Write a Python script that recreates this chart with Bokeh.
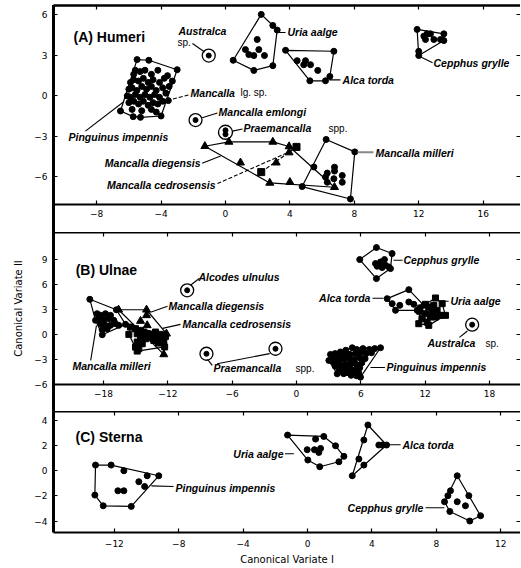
from bokeh.plotting import figure
from bokeh.models import Range1d, LinearAxis, FixedTicker, ColumnDataSource
from bokeh.layouts import column
from bokeh.embed import file_html
from bokeh.resources import INLINE
from bokeh.core.properties import value

# ================= DATA =================
# ---- Panel A: Humeri ----
A_pinguinus_x = [-6.52, -5.49, -4.76, -3.0, -4.0, -5.28, -5.73,
                 -5.7, -5.6, -5.3, -5.0, -4.6, -4.2, -3.6, -3.3,
                 -5.9, -5.7, -5.4, -5.1, -4.8, -4.5, -4.1, -3.8,
                 -6.0, -5.8, -5.5, -5.2, -4.9, -4.6, -4.3, -3.9, -3.5,
                 -6.1, -5.9, -5.6, -5.3, -5.0, -4.7, -4.4, -4.1, -3.7,
                 -6.0, -5.7, -5.4, -5.1, -4.8, -4.5, -4.2, -3.9,
                 -5.8, -5.2, -4.6, -4.3]
A_pinguinus_y = [-1.12, 2.69, 2.64, 1.94, -1.49, -1.59, -1.54,
                 1.6, 1.9, 1.8, 1.9, 1.6, 1.9, 1.5, 1.1,
                 1.0, 1.2, 1.1, 1.3, 1.0, 1.2, 1.0, 1.3,
                 0.5, 0.6, 0.4, 0.7, 0.5, 0.7, 0.4, 0.6, 0.7,
                 0.0, -0.1, 0.1, -0.1, 0.1, -0.1, 0.1, -0.1, 0.2,
                 -0.5, -0.4, -0.6, -0.4, -0.7, -0.5, -0.6, -0.4,
                 -1.0, -1.1, -1.0, -1.2]
A_lgsp_x = [-3.55]
A_lgsp_y = [-0.35]
A_australca_x = [-1.04]
A_australca_y = [2.99]
A_emlongi_x = [-1.86]
A_emlongi_y = [-1.79]
A_praemancalla_x = [0.0, 0.0]
A_praemancalla_y = [-2.55, -2.85]
A_uria_x = [2.22, 2.94, 3.21, 2.94, 1.76, 0.48, 1.97, 1.24, 2.07, 1.45, 1.76, 2.42]
A_uria_y = [6.04, 5.22, 4.88, 2.24, 1.89, 2.64, 4.18, 3.43, 3.43, 3.06, 2.99, 2.99]
A_alca_x = [3.73, 6.73, 6.48, 6.21, 5.24, 4.45, 4.97, 4.86, 5.28, 5.73]
A_alca_y = [3.38, 3.31, 1.44, 1.12, 1.12, 2.61, 2.61, 2.31, 2.31, 1.89]
A_cepphus_x = [11.9, 13.56, 13.56, 12.0, 12.0, 12.32, 12.52, 12.73, 12.42, 12.94, 13.35]
A_cepphus_y = [4.93, 4.6, 4.1, 2.99, 3.3, 4.43, 4.6, 4.6, 4.18, 4.18, 4.18]
A_diegensis_x = [-1.28, 0.21, 2.94, 3.95, 6.77, 4.0, 2.75, 0.93, 3.15, 3.95]
A_diegensis_y = [-3.73, -3.41, -3.41, -3.75, -6.77, -6.39, -6.45, -4.95, -4.95, -4.2]
A_cedrosensis_x = [4.41, 2.22]
A_cedrosensis_y = [-3.78, -5.65]
A_milleri_x = [6.25, 8.03, 7.76, 4.76, 5.49, 6.77, 6.77, 6.32, 7.25, 6.73, 7.25, 6.32, 6.21]
A_milleri_y = [-3.23, -4.15, -7.64, -6.72, -5.27, -5.28, -5.57, -5.72, -5.9, -6.14, -6.4, -6.4, -6.02]

# ---- Panel B: Ulnae ----
B_alcodes_x = [-10.2]
B_alcodes_y = [5.28]
B_milleri_x = [-19.28, -16.8, -15.95, -18.12,
               -18.6, -18.28, -17.82, -17.35, -18.44, -17.97, -17.51, -17.04,
               -16.58, -18.28, -17.82, -17.35, -18.13, -17.66, -16.88, -18.75]
B_milleri_y = [4.2, 2.95, 1.2, -0.04,
               2.48, 2.28, 2.48, 2.28, 1.88, 1.76, 1.88, 1.68,
               1.08, 1.28, 1.08, 1.08, 0.56, 0.68, 1.28, 1.68]
B_diegensis_x = [-16.6, -13.99, -13.99, -14.55, -13.93, -12.84, -12.38, -12.13]
B_diegensis_y = [2.95, 2.95, 2.28, 1.6, 1.08, -1.12, -2.4, 0.08]
B_cedrosensis_x = [-15.64, -15.49, -15.02, -14.55, -14.86, -14.24, -13.93, -13.62, -13.15,
                   -12.69, -12.22, -14.55, -14.08, -13.62, -13.15, -12.69, -12.38, -14.86,
                   -14.39, -15.02, -14.71, -13.31, -12.84, -14.86, -12.3]
B_cedrosensis_y = [0.0, 0.88, 0.68, 0.48, 0.08, 0.28, 0.08, 0.0, 0.28,
                   0.0, -0.24, -0.32, -0.52, -0.4, -0.4, -0.52, -0.72, -0.92,
                   -1.12, -1.52, -1.72, -0.72, -0.9, -2.0, -1.5]
B_praemancalla_x = [-8.4, -1.96]
B_praemancalla_y = [-2.32, -1.72]
B_australca_x = [16.39]
B_australca_y = [1.16]
B_pinguinus_x = [3.17, 5.2, 7.84, 5.97, 3.8, 3.02,
                 3.6, 4.1, 4.6, 5.6, 6.2, 6.8, 7.3,
                 3.5, 4.0, 4.5, 5.0, 5.5, 6.0, 6.5, 7.0,
                 3.4, 3.9, 4.4, 4.9, 5.4, 5.9, 6.4,
                 3.6, 4.1, 4.6, 5.1, 5.6, 6.1,
                 4.0, 4.5, 5.0, 5.5, 5.9,
                 4.4, 4.9, 5.4, 5.8,
                 5.1, 5.6]
B_pinguinus_y = [-2.4, -1.6, -1.6, -5.12, -4.72, -3.12,
                 -2.3, -2.1, -1.9, -1.8, -1.7, -1.8, -1.7,
                 -2.8, -2.6, -2.5, -2.4, -2.3, -2.2, -2.3, -2.2,
                 -3.3, -3.2, -3.0, -2.9, -3.0, -2.8, -2.9,
                 -3.8, -3.7, -3.6, -3.5, -3.6, -3.4,
                 -4.3, -4.2, -4.1, -4.2, -4.0,
                 -4.7, -4.6, -4.7, -4.6,
                 -4.9, -4.95]
B_alca_x = [8.46, 10.48, 11.88, 11.26, 9.24, 8.93, 9.64, 10.48, 10.95, 11.51]
B_alca_y = [4.28, 5.36, 3.48, 2.88, 2.88, 3.68, 3.48, 3.88, 3.6, 3.2]
B_uria_x = [12.97, 13.59, 13.9, 12.34, 11.41, 11.51,
            12.03, 12.34, 12.81, 12.66, 13.12, 12.03, 12.5, 12.97, 13.43, 11.72, 12.19]
B_uria_y = [4.36, 3.68, 2.28, 1.08, 1.28, 2.76,
            3.6, 3.28, 3.48, 2.68, 2.88, 2.48, 2.08, 2.08, 2.28, 1.88, 1.48]
B_cepphus_x = [5.9, 7.46, 8.92, 8.77, 7.46, 7.37, 7.84, 8.21, 8.3, 8.61, 7.53, 7.99]
B_cepphus_y = [8.96, 10.4, 9.68, 7.88, 6.68, 8.48, 8.68, 8.96, 8.28, 8.08, 8.16, 8.0]

# ---- Panel C: Sterna ----
C_pinguinus_x = [-13.17, -12.2, -9.24, -10.95, -12.69, -13.21, -11.41, -9.96, -10.48, -10.12, -11.78, -11.41]
C_pinguinus_y = [0.45, 0.45, -0.4, -2.83, -2.78, -1.93, 0.0, -0.4, -0.87, -1.25, -1.59, -1.59]
C_uria_x = [-1.24, 1.01, 1.74, 2.26, 1.95, 0.76, 0.02, -0.02, 0.43, 0.81, 0.7, 0.5]
C_uria_y = [2.83, 2.72, 1.98, 1.14, 0.71, 0.32, 0.85, 1.67, 1.67, 1.77, 1.45, 2.51]
C_alca_x = [3.75, 4.91, 2.78, 3.5, 4.43, 4.64, 3.19, 3.5]
C_alca_y = [3.63, 2.04, -0.4, 2.44, 2.04, 2.04, 0.93, 0.45]
C_cepphus_x = [9.3, 10.02, 10.75, 10.08, 8.84, 8.51, 8.72, 8.88, 9.3, 9.81]
C_cepphus_y = [-0.4, -1.98, -3.57, -3.99, -3.23, -2.46, -1.98, -1.59, -2.46, -2.78]

# tick values
A_xticks = [-8, -4, 0, 4, 8, 12, 16]
A_yticks = [-6, -3, 0, 3, 6]
B_xticks = [-18, -12, -6, 0, 6, 12, 18]
B_yticks = [-6, -3, 0, 3, 6, 9]
C_xticks = [-12, -8, -4, 0, 4, 8, 12]
C_yticks = [-4, -2, 0, 2, 4]

# ================= ANNOTATIONS (text, x, y, kind, align) =================
A_labels = [
    ("(A) Humeri", -9.44, 4.33, "title", "left"),
    ("Australca", -2.92, 4.78, "sp", "left"),
    ("sp.", -2.98, 3.96, "rm", "left"),
    ("Uria aalge", 3.85, 4.7, "sp", "left"),
    ("Alca torda", 7.27, 1.19, "sp", "left"),
    ("Cepphus grylle", 12.92, 2.46, "sp", "left"),
    ("Mancalla", -2.17, 0.22, "sp", "left"),
    ("lg. sp.", 0.93, 0.22, "rm", "left"),
    ("Pinguinus impennis", -9.75, -3.06, "sp", "left"),
    ("Mancalla emlongi", -0.43, -1.19, "sp", "left"),
    ("Praemancalla", 1.12, -2.39, "sp", "left"),
    ("spp.", 6.4, -2.39, "rm", "left"),
    ("Mancalla diegensis", -1.55, -5.0, "sp", "right"),
    ("Mancalla cedrosensis", -0.62, -6.57, "sp", "right"),
    ("Mancalla milleri", 9.32, -4.2, "sp", "left"),
]
A_leaders = [
    (-2.05, 3.88, -1.3, 3.25, "solid", "black"),
    (3.23, 4.7, 3.73, 4.7, "solid", "black"),
    (6.45, 1.19, 7.14, 1.19, "solid", "black"),
    (12.1, 2.9, 12.86, 2.46, "solid", "black"),
    (-2.3, 0.07, -3.5, -0.3, "dashed", "black"),
    (-8.7, -2.61, -6.34, -0.45, "solid", "black"),
    (-1.45, -1.62, -0.5, -1.27, "solid", "black"),
    (0.43, -2.61, 1.06, -2.46, "solid", "black"),
    (-1.45, -5.0, -0.3, -4.45, "solid", "black"),
    (-0.5, -6.5, 3.91, -4.18, "dashed", "black"),
    (8.2, -4.18, 9.19, -4.18, "solid", "#888888"),
]
B_labels = [
    ("(B) Ulnae", -20.6, 7.68, "title", "left"),
    ("Alcodes ulnulus", -9.14, 6.84, "sp", "left"),
    ("Mancalla diegensis", -11.94, 3.36, "sp", "left"),
    ("Mancalla cedrosensis", -10.63, 1.2, "sp", "left"),
    ("Mancalla milleri", -20.9, -3.84, "sp", "left"),
    ("Praemancalla", -7.74, -4.08, "sp", "left"),
    ("spp.", -0.09, -4.08, "rm", "left"),
    ("Cepphus grylle", 9.98, 8.88, "sp", "left"),
    ("Alca torda", 6.9, 4.32, "sp", "right"),
    ("Uria aalge", 14.37, 3.96, "sp", "left"),
    ("Australca", 12.22, -1.08, "sp", "left"),
    ("sp.", 17.63, -1.08, "rm", "left"),
    ("Pinguinus impennis", 8.4, -3.96, "sp", "left"),
]
B_leaders = [
    (-9.89, 5.88, -9.05, 6.72, "solid", "black"),
    (-12.03, 3.36, -13.62, 2.64, "solid", "black"),
    (-10.82, 1.2, -12.5, 0.72, "solid", "black"),
    (-19.2, -3.12, -18.66, 1.08, "solid", "black"),
    (-7.86, -3.72, -8.3, -3.0, "solid", "black"),
    (-7.4, -3.52, -2.5, -2.3, "solid", "black"),
    (9.05, 8.88, 9.9, 8.88, "solid", "black"),
    (7.09, 4.32, 8.12, 4.32, "solid", "black"),
    (13.6, 3.96, 14.2, 3.96, "solid", "black"),
    (15.2, -0.36, 15.95, 0.4, "solid", "black"),
    (6.9, -3.96, 8.25, -3.96, "solid", "black"),
]
C_labels = [
    ("(C) Sterna", -14.41, 2.7, "title", "left"),
    ("Pinguinus impennis", -8.2, -1.35, "sp", "left"),
    ("Uria aalge", -1.49, 1.35, "sp", "right"),
    ("Alca torda", 5.9, 2.06, "sp", "left"),
    ("Cepphus grylle", 7.2, -2.94, "sp", "right"),
]
C_leaders = [
    (-9.7, -1.2, -8.32, -1.25, "solid", "black"),
    (-1.4, 1.35, -0.85, 1.35, "solid", "black"),
    (5.0, 2.06, 5.78, 2.06, "solid", "black"),
    (7.33, -2.94, 8.5, -2.94, "solid", "black"),
]


def hull(xs, ys):
    pts = sorted(set(zip(xs, ys)))
    if len(pts) < 3:
        return [q[0] for q in pts], [q[1] for q in pts]

    def cross(o, a, b):
        return (a[0] - o[0]) * (b[1] - o[1]) - (a[1] - o[1]) * (b[0] - o[0])
    lower, upper = [], []
    for q in pts:
        while len(lower) >= 2 and cross(lower[-2], lower[-1], q) <= 0:
            lower.pop()
        lower.append(q)
    for q in reversed(pts):
        while len(upper) >= 2 and cross(upper[-2], upper[-1], q) <= 0:
            upper.pop()
        upper.append(q)
    h = lower[:-1] + upper[:-1]
    return [q[0] for q in h], [q[1] for q in h]


TICK_FONT = "DejaVu Sans"
LAB_FONT = "Liberation Sans"
FRAME_LEFT = 53
FIG_W = 520


def make_axis(p, loc, ticks, labels=True, line=True, lw=2.0, label=None,
              standoff=5, label_standoff=4):
    a = LinearAxis(ticker=FixedTicker(ticks=ticks))
    a.major_tick_in = 4
    a.major_tick_out = 0
    a.minor_tick_in = 0
    a.minor_tick_out = 0
    a.major_tick_line_width = 1.2
    a.major_tick_line_color = "black"
    a.axis_line_width = lw
    a.axis_line_color = "black" if line else None
    a.major_label_text_font = TICK_FONT
    a.major_label_text_font_size = "9px"
    if labels:
        a.major_label_text_color = "black"
        a.major_label_standoff = standoff
    else:
        a.major_label_text_color = None
        a.major_label_standoff = 0
    if label:
        a.axis_label = label
        a.axis_label_text_font = TICK_FONT
        a.axis_label_text_font_size = "10px"
        a.axis_label_text_font_style = "normal"
        a.axis_label_text_color = "black"
        a.axis_label_standoff = label_standoff
    p.add_layout(a, loc)
    return a


def make_panel(xr, yr, xt, yt, h, top, bottom, xlabel=None, ylabel=None,
               top_lw=2.0, xstandoff=5):
    p = figure(width=FIG_W, height=h, x_range=Range1d(*xr), y_range=Range1d(*yr),
               output_backend="svg", toolbar_location=None,
               x_axis_location=None, y_axis_location=None,
               min_border_left=FRAME_LEFT, min_border_right=0, min_border_top=top,
               min_border_bottom=bottom)
    p.outline_line_color = None
    p.grid.visible = False
    p.background_fill_color = "white"
    p.border_fill_alpha = 0
    make_axis(p, "left", yt, labels=True, lw=3, label=ylabel, standoff=6, label_standoff=7)
    make_axis(p, "right", yt, labels=False, line=False)
    make_axis(p, "above", xt, labels=False, lw=top_lw)
    make_axis(p, "below", xt, labels=True, lw=2, label=xlabel, standoff=xstandoff,
              label_standoff=4)
    return p


def add_species(p, xs, ys, marker="circle", size=6, hull_dash=None, draw_hull=True):
    p.scatter(xs, ys, marker=marker, size=size, fill_color="black", line_color="black")
    if draw_hull and len(xs) >= 2:
        hx, hy = hull(xs, ys)
        if len(hx) >= 3:
            p.patch(hx, hy, fill_color=None, line_color="black", line_width=1.2)
        else:
            p.line(hx, hy, line_color="black", line_width=1.2,
                   line_dash=hull_dash or "solid")


def add_ringed(p, xs, ys, group=False):
    p.scatter(xs, ys, marker="circle", size=5, fill_color="black", line_color="black")
    if group:
        cx = [sum(xs) / len(xs)]
        cy = [sum(ys) / len(ys)]
        p.scatter(cx, cy, marker="circle", size=14, fill_color=None,
                  line_color="black", line_width=1.4)
    else:
        p.scatter(xs, ys, marker="circle", size=13, fill_color=None,
                  line_color="black", line_width=1.3)


def add_annotations(p, labels, leaders):
    for dash in ("solid", "dashed"):
        for col in ("black", "#888888"):
            sel = [l for l in leaders if l[4] == dash and l[5] == col]
            if not sel:
                continue
            p.segment(x0=[l[0] for l in sel], y0=[l[1] for l in sel],
                      x1=[l[2] for l in sel], y1=[l[3] for l in sel],
                      line_color=col, line_width=1.1 if col == "black" else 2.0,
                      line_dash="4 2" if dash == "dashed" else "solid")
    styles = {"title": ("bold", "14px"), "sp": ("bold italic", "10.5px"),
              "rm": ("normal", "10px")}
    for kind, (fs, sz) in styles.items():
        for al in ("left", "right"):
            sel = [l for l in labels if l[3] == kind and l[4] == al]
            if not sel:
                continue
            src = ColumnDataSource(dict(x=[l[1] for l in sel], y=[l[2] for l in sel],
                                        t=[l[0] for l in sel]))
            p.text(x="x", y="y", text="t", source=src, text_font=value(LAB_FONT),
                   text_font_style=fs, text_font_size=sz, text_color="black",
                   text_baseline="middle", text_align=al)


# ---------------- Panel A ----------------
pA = make_panel((-10.68, 18.32), (-8.05, 6.7), A_xticks, A_yticks, 232, 5, 28, top_lw=2.5)
add_species(pA, A_pinguinus_x, A_pinguinus_y)
add_species(pA, A_lgsp_x, A_lgsp_y, draw_hull=False)
add_species(pA, A_uria_x, A_uria_y)
add_species(pA, A_alca_x, A_alca_y)
add_species(pA, A_cepphus_x, A_cepphus_y)
add_species(pA, A_diegensis_x, A_diegensis_y, marker="triangle", size=8)
add_species(pA, A_cedrosensis_x, A_cedrosensis_y, marker="square", size=7, hull_dash="4 2")
add_species(pA, A_milleri_x, A_milleri_y)
add_ringed(pA, A_australca_x, A_australca_y)
add_ringed(pA, A_emlongi_x, A_emlongi_y)
add_ringed(pA, A_praemancalla_x, A_praemancalla_y, group=True)
add_annotations(pA, A_labels, A_leaders)

# ---------------- Panel B ----------------
pB = make_panel((-22.67, 20.9), (-6.0, 12.2), B_xticks, B_yticks, 179, 0, 27,
                ylabel="Canonical Variate II")
add_species(pB, B_milleri_x, B_milleri_y)
add_species(pB, B_diegensis_x, B_diegensis_y, marker="triangle", size=8)
add_species(pB, B_cedrosensis_x, B_cedrosensis_y, marker="square", size=6)
add_species(pB, B_pinguinus_x, B_pinguinus_y)
add_species(pB, B_alca_x, B_alca_y)
add_species(pB, B_uria_x, B_uria_y, marker="square", size=6)
add_species(pB, B_cepphus_x, B_cepphus_y)
add_ringed(pB, B_alcodes_x, B_alcodes_y)
add_ringed(pB, B_praemancalla_x, B_praemancalla_y)
add_ringed(pB, B_australca_x, B_australca_y)
add_annotations(pB, B_labels, B_leaders)

# ---------------- Panel C ----------------
pC = make_panel((-15.78, 13.23), (-4.9, 4.7), C_xticks, C_yticks, 156, 0, 35,
                xlabel="Canonical Variate I", xstandoff=7)
add_species(pC, C_pinguinus_x, C_pinguinus_y)
add_species(pC, C_uria_x, C_uria_y)
add_species(pC, C_alca_x, C_alca_y)
add_species(pC, C_cepphus_x, C_cepphus_y)
add_annotations(pC, C_labels, C_leaders)

layout = column(pA, pB, pC, spacing=0,
                styles={"background-color": "#ffffff",
                        "background-image": "linear-gradient(#000000, #000000)",
                        "background-repeat": "no-repeat",
                        "background-position": "51.5px 5px",
                        "background-size": "3px 527px"})

with open("out.html", "w") as f:
    f.write(file_html(layout, INLINE))
